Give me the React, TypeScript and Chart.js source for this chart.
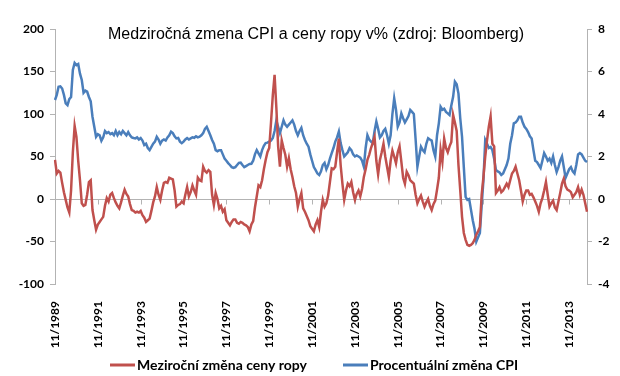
import React, { useEffect, useRef } from "react";
import { Chart, registerables } from "chart.js";

Chart.register(...registerables);

// Monthly data from 11/1989 onwards
const startYear = 1989;
const startMonth = 11;

const oilYoY: number[] = [
  46, 30, 33, 31, 19, 8, -1, -10, -16, 10, 55, 86,
  73, 45, 22, -5, -8, -7, 5, 20, 22, -13, -25, -36,
  -30, -27, -24, -21, -8, 1, -3, 5, 7, 1, -4, -8,
  -11, -4, 4, 11, 6, 3, -6, -13, -14, -16, -15, -16,
  -14, -19, -22, -27, -25, -23, -14, -4, 3, 14, 5, -1,
  10, 19, 20, 19, 25, 24, 23, 10, -9, -7, -6, -3,
  -5, 5, 14, 3, 8, 16, 10, 5, 25, 22, 21, 38,
  33, 31, 34, 32, 5, -7, 7, 0, -11, -8, -15, -12,
  -25, -28, -31, -27, -24, -24, -28, -29, -27, -28, -30, -31,
  -33, -38, -30, -26, -10, 3, 16, 14, 22, 35, 46, 55,
  60, 90, 122, 146, 107, 62, 38, 69, 60, 52, 38, 48,
  35, 26, 15, 7, -9, 0, 7, -11, -15, -20, -25, -32,
  -35, -38, -30, -25, -33, -15, -1, -9, -5, 4, 20, 36,
  35, 38, 55, 71, 40, 18, -1, 10, 18, 15, 20, 8,
  -1, 6, 10, 3, 12, 26, 35, 46, 52, 60, 66, 73,
  45, 29, 46, 55, 65, 50, 38, 26, 45, 57, 50, 42,
  55, 62, 44, 25, 18, 32, 28, 22, 20, 18, 5, -5,
  0, 4, -3, -9, -4, 0, -8, -13, -6, -2, 11, 25,
  58, 44, 71, 60, 55, 62, 67, 99, 90, 80, 40, 10,
  -21, -40, -48, -54, -55, -54, -52, -48, -42, -38, -33, 5,
  26, 50, 69, 85, 97, 65, 62, 7, 10, 14, 8, 10,
  14, 18, 14, 22, 30, 33, 38, 30, 22, 10, -3, 5,
  10, 10, 5, 6, 2, -3, -8, -15, -5, 1, 10, 20,
  5, -9, -5, -2, -10, -13, -3, 7, 18, 24, 15, 11,
  10, 8, 2, 5, 8, 14, 5, 11, 5, -5, -15,
];

const cpiYoY: number[] = [
  4.66, 4.9, 5.28, 5.3, 5.2, 4.9, 4.5, 4.42, 4.7, 4.8, 6.07, 6.4,
  6.3, 6.35, 5.9, 5.6, 5.0, 5.1, 5.05, 4.8, 4.6, 3.87, 3.4, 2.93,
  3.05, 3.0, 2.74, 2.9, 3.2, 3.1, 3.15, 3.05, 3.1, 3.0, 3.2, 3.0,
  3.15, 3.05, 3.2, 3.1, 3.0, 3.15, 3.0, 2.9, 2.87, 2.85, 2.9, 2.8,
  2.87, 2.75, 2.54, 2.6, 2.4, 2.3, 2.45, 2.6, 2.7, 2.93, 2.8, 2.6,
  2.75, 2.8, 2.75, 2.9, 3.0, 3.17, 3.1, 2.95, 2.85, 2.87, 2.7, 2.63,
  2.7, 2.8, 2.87, 2.8, 2.85, 2.9, 2.88, 2.95, 2.9, 2.93, 3.0, 3.1,
  3.3, 3.4, 3.2, 3.0, 2.78, 2.6, 2.3, 2.25, 2.3, 2.3, 2.1, 1.9,
  1.8, 1.69, 1.6, 1.5, 1.46, 1.5, 1.6, 1.7, 1.71, 1.6, 1.5, 1.55,
  1.6, 1.65, 1.66, 1.8, 2.1, 2.3, 2.15, 2.0, 2.3, 2.5, 2.63, 2.65,
  2.7, 2.75, 2.87, 3.2, 3.7, 3.4, 3.1, 3.4, 3.7, 3.5, 3.4, 3.5,
  3.6, 3.7, 3.5, 3.2, 3.0, 3.2, 3.35, 3.0, 2.78, 2.6, 2.46, 2.1,
  1.8, 1.5, 1.36, 1.2, 1.13, 1.3, 1.6, 1.7, 1.4, 1.6, 1.9, 2.16,
  2.4, 2.7, 2.9, 3.17, 2.63, 2.3, 2.0, 2.1, 2.2, 2.4, 2.3, 2.1,
  2.0, 2.05, 2.0, 1.95, 1.8, 1.52, 2.4, 3.0, 2.8, 2.7, 2.63, 3.2,
  3.64, 3.3, 2.9, 3.0, 3.2, 3.3, 3.0, 2.6, 3.0, 4.0, 4.74, 4.2,
  3.4, 3.6, 4.03, 3.8, 3.6, 3.75, 3.9, 4.19, 4.1, 4.0, 2.8, 1.52,
  2.0, 2.46, 2.3, 2.2, 2.6, 2.86, 2.8, 2.75, 2.3, 2.0, 3.0, 3.56,
  4.34, 4.2, 4.25, 4.1, 4.03, 3.95, 4.4, 4.81, 5.52, 5.4, 4.96, 3.8,
  2.93, 1.5, 0.1, -0.04, 0.0, -0.5, -1.0, -1.4, -2.0, -1.8, -1.6, -0.3,
  0.9, 2.78, 2.6, 2.4, 2.45, 2.3, 1.9, 1.36, 1.3, 1.25, 1.13, 1.2,
  1.4, 1.6, 1.9, 2.6, 3.0, 3.56, 3.6, 3.7, 3.87, 3.87, 3.6, 3.4,
  3.3, 3.15, 2.95, 2.85, 2.3, 1.8, 1.74, 1.6, 1.46, 1.8, 2.16, 2.0,
  1.8, 1.9, 1.7, 2.0, 1.6, 1.27, 1.5, 1.8, 2.0, 1.5, 1.0, 1.2,
  1.4, 1.5, 1.3, 1.2, 1.6, 2.1, 2.16, 2.1, 1.95, 1.8, 1.74,
];

const tickLabels: string[] = [
  "11/1989", "11/1991", "11/1993", "11/1995", "11/1997", "11/1999", "11/2001",
  "11/2003", "11/2005", "11/2007", "11/2009", "11/2011", "11/2013",
];
const tickEvery = 24;

const titleText = "Medziročná zmena CPI a ceny ropy v% (zdroj: Bloomberg)";
const oilLabel = "Meziroční změna ceny ropy";
const cpiLabel = "Procentuální změna CPI";

const categories: string[] = oilYoY.map((_, i) => {
  const m = ((startMonth - 1 + i) % 12) + 1;
  const y = startYear + Math.floor((startMonth - 1 + i) / 12);
  return `${m}/${y}`;
});

const RED = "#C0504D";
const BLUE = "#4A7EBB";
const AXIS = "#B3B3B3";
const FONT = "Lato, 'Open Sans', sans-serif";

export default function App() {
  const ref = useRef<HTMLCanvasElement | null>(null);

  useEffect(() => {
    if (!ref.current) return;
    const overlay = {
      id: "overlay",
      beforeDatasetsDraw(chart: any) {
        const { ctx, chartArea, scales } = chart;
        const y0 = Math.round(scales.y.getPixelForValue(0)) + 0.5;
        ctx.save();
        ctx.strokeStyle = AXIS;
        ctx.lineWidth = 1;
        ctx.beginPath();
        ctx.moveTo(chartArea.left, y0);
        ctx.lineTo(chartArea.right, y0);
        for (let i = tickEvery; i < categories.length; i += tickEvery) {
          const x = Math.round(scales.x.getPixelForValue(i)) + 0.5;
          ctx.moveTo(x, y0);
          ctx.lineTo(x, y0 + 5);
        }
        ctx.stroke();
        ctx.restore();
      },
      afterDraw(chart: any) {
        const { ctx } = chart;
        ctx.save();
        // title, drawn over the plot
        ctx.fillStyle = "#000";
        ctx.font = "16px 'Liberation Sans', Arial, sans-serif";
        ctx.textAlign = "center";
        ctx.textBaseline = "middle";
        ctx.fillText(titleText, 316, 35);
        // legend
        const items = [
          { x: 110, ds: chart.data.datasets[0] },
          { x: 343, ds: chart.data.datasets[1] },
        ];
        const ly = 365;
        ctx.font = `bold 14px ${FONT}`;
        ctx.textAlign = "left";
        for (const it of items) {
          ctx.strokeStyle = it.ds.borderColor;
          ctx.lineWidth = 3;
          ctx.beginPath();
          ctx.moveTo(it.x, ly);
          ctx.lineTo(it.x + 25, ly);
          ctx.stroke();
          ctx.fillStyle = "#000";
          ctx.fillText(it.ds.label, it.x + 27, ly);
        }
        ctx.restore();
      },
    };

    const chart = new Chart(ref.current, {
      type: "line",
      data: {
        labels: categories,
        datasets: [
          {
            label: oilLabel,
            data: oilYoY,
            borderColor: RED,
            backgroundColor: RED,
            borderWidth: 2.5,
            pointRadius: 0,
            tension: 0,
            yAxisID: "y",
          },
          {
            label: cpiLabel,
            data: cpiYoY,
            borderColor: BLUE,
            backgroundColor: BLUE,
            borderWidth: 2.5,
            pointRadius: 0,
            tension: 0,
            yAxisID: "y1",
          },
        ],
      },
      options: {
        responsive: false,
        animation: false,
        layout: { padding: { top: 29, left: 0, right: 0, bottom: 27 } },
        plugins: {
          title: { display: false },
          tooltip: { enabled: false },
          legend: { display: false },
        },
        scales: {
          x: {
            type: "category",
            offset: false,
            grid: { display: false },
            border: { display: false },
            ticks: {
              autoSkip: false,
              maxRotation: 90,
              minRotation: 90,
              padding: 9,
              color: "#000",
              font: { family: FONT, size: 12, weight: "bold" },
              callback: (_v: any, i: number) =>
                i % tickEvery === 0 ? tickLabels[i / tickEvery] ?? "" : "",
            },
            afterFit: (s: any) => {
              s.height = 65;
            },
          },
          y: {
            position: "left",
            min: -100,
            max: 200,
            ticks: {
              stepSize: 50,
              color: "#000",
              padding: 6,
              font: { family: FONT, size: 12, weight: "bold" },
            },
            grid: { drawOnChartArea: false, color: AXIS, tickLength: 5 },
            border: { display: true, color: AXIS },
            afterFit: (s: any) => {
              s.width = 55;
            },
          },
          y1: {
            position: "right",
            min: -4,
            max: 8,
            ticks: {
              stepSize: 2,
              color: "#000",
              padding: 6,
              font: { family: FONT, size: 12, weight: "bold" },
            },
            grid: { drawOnChartArea: false, color: AXIS, tickLength: 5 },
            border: { display: true, color: AXIS },
            afterFit: (s: any) => {
              s.width = 33;
            },
          },
        },
      },
      plugins: [overlay],
    } as any);
    return () => chart.destroy();
  }, []);

  return (
    <div style={{ position: "absolute", left: 0, top: 0, width: 620, height: 376, background: "#fff" }}>
      <canvas ref={ref} width={620} height={376} />
    </div>
  );
}
